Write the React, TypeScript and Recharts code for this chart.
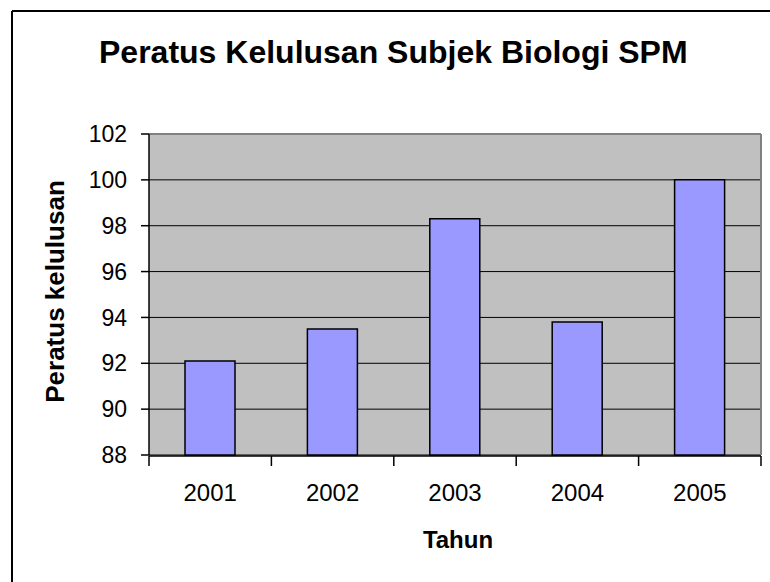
import React from 'react';
import { BarChart, Bar, XAxis, YAxis, CartesianGrid, ReferenceLine } from 'recharts';

// Peratus kelulusan Biologi SPM, 2001 - 2005
const years = ['2001', '2002', '2003', '2004', '2005'];
const passRates = [92.1, 93.5, 98.3, 93.8, 100];
const yTicks = [88, 90, 92, 94, 96, 98, 100, 102];
const boundaryTicks = [0, 1, 2, 3, 4, 5];

const FONT = '"Liberation Sans", Arial, sans-serif';

const data = years.map((year, i) => ({ year, rate: passRates[i], pos: i + 0.5 }));

export default function App() {
  return (
    <div style={{ position: 'absolute', left: 0, top: 0, width: 770, height: 582, overflow: 'hidden', background: '#fff', fontFamily: FONT }}>
      <div style={{ position: 'absolute', left: 0, top: 0 }}>
        <BarChart
          width={770}
          height={582}
          data={data}
          barSize={50}
          margin={{ top: 134, right: 9, bottom: 125, left: 49 }}
        >
          <CartesianGrid xAxisId="cat" vertical={false} fill="#C0C0C0" stroke="#000" strokeOpacity={1} />
          {/* category labels */}
          <XAxis
            xAxisId="cat"
            dataKey="year"
            height={1}
            axisLine={false}
            tickLine={false}
            tickSize={0}
            tickMargin={29}
            tick={{ fill: '#000', fontSize: 24, fontFamily: FONT }}
          />
          {/* tick marks sit between the categories */}
          <XAxis
            xAxisId="grid"
            type="number"
            dataKey="pos"
            domain={[0, 5]}
            ticks={boundaryTicks}
            height={1}
            tickSize={10}
            tickFormatter={() => ''}
            axisLine={{ stroke: '#000', strokeWidth: 1.5 }}
            tickLine={{ stroke: '#000', strokeWidth: 1.5 }}
          />
          <YAxis
            width={100}
            domain={[88, 102]}
            ticks={yTicks}
            interval={0}
            tickSize={8}
            tickMargin={14}
            tick={{ fill: '#000', fontSize: 23, fontFamily: FONT }}
            axisLine={{ stroke: '#000', strokeWidth: 1.5 }}
            tickLine={{ stroke: '#000', strokeWidth: 1.5 }}
            label={{
              content: ({ viewBox }: any) => {
                const cx = 55;
                const cy = viewBox.y + viewBox.height / 2 - 3;
                return (
                  <text
                    x={cx}
                    y={cy}
                    transform={`rotate(-90 ${cx} ${cy})`}
                    textAnchor="middle"
                    dominantBaseline="central"
                    fontSize={26}
                    fontWeight="bold"
                    fontFamily={FONT}
                    fill="#000"
                  >
                    Peratus kelulusan
                  </text>
                );
              },
            }}
          />
          <ReferenceLine xAxisId="cat" y={102} stroke="#808080" strokeWidth={2} />
          <ReferenceLine xAxisId="grid" x={5} stroke="#808080" strokeWidth={2} />
          <Bar
            xAxisId="cat"
            dataKey="rate"
            fill="#9999FF"
            stroke="#000"
            strokeWidth={1.5}
            isAnimationActive={false}
          />
        </BarChart>
      </div>
      <svg width={770} height={582} style={{ position: 'absolute', left: 0, top: 0, pointerEvents: 'none' }}>
        <line x1={12} y1={11} x2={770} y2={11} stroke="#000" strokeWidth={2} />
        <line x1={12} y1={11} x2={12} y2={582} stroke="#000" strokeWidth={2} />
        <text x={99} y={63} fontSize={32} fontWeight="bold" fontFamily={FONT} fill="#000">
          Peratus Kelulusan Subjek Biologi SPM
        </text>
        <text x={458} y={548} textAnchor="middle" fontSize={24} fontWeight="bold" fontFamily={FONT} fill="#000">
          Tahun
        </text>
      </svg>
    </div>
  );
}
